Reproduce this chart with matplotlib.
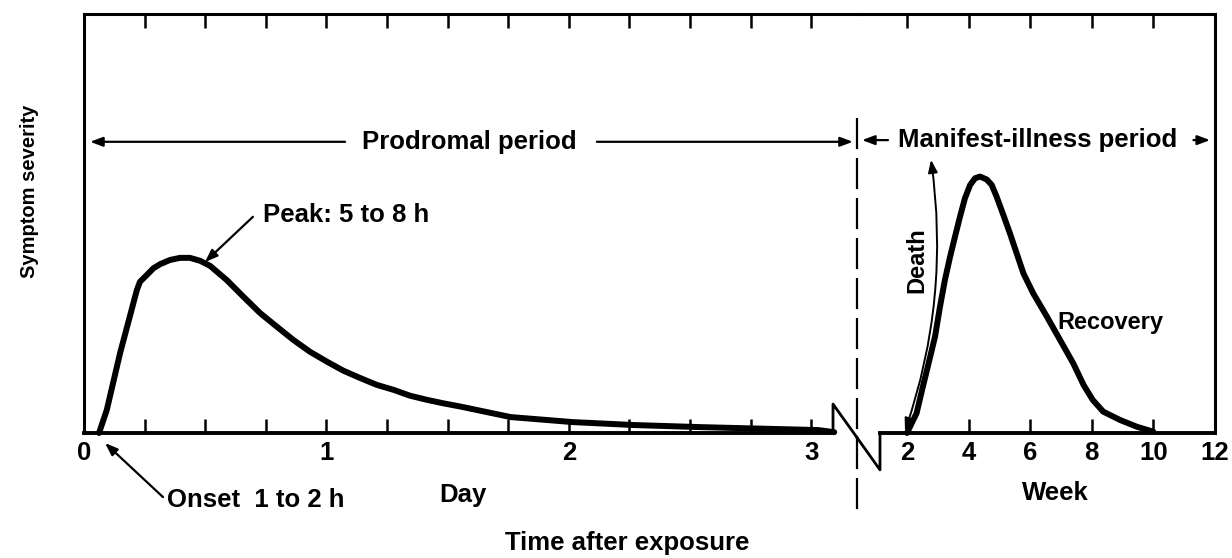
import numpy as np
import matplotlib
matplotlib.use("Agg")
import matplotlib.pyplot as plt

plt.rcParams['font.family'] = ['Liberation Sans', 'DejaVu Sans']
plt.rcParams['font.weight'] = 'bold'

# prodromal period curve (time in days, severity in arbitrary units 0-10)
day_t = [0.062, 0.094, 0.149, 0.218, 0.231, 0.259, 0.286, 0.314, 0.355, 0.396,
         0.437, 0.479, 0.520, 0.589, 0.658, 0.727, 0.795, 0.864, 0.932, 1.003,
         1.069, 1.140, 1.207, 1.277, 1.345, 1.416, 1.481, 1.554, 1.760, 2.017,
         2.269, 2.545, 2.822, 3.029, 3.095]
day_sev = [0.0, 0.55, 1.91, 3.41, 3.61, 3.77, 3.93, 4.03, 4.13, 4.18,
           4.18, 4.11, 3.99, 3.65, 3.25, 2.86, 2.54, 2.22, 1.94, 1.70,
           1.49, 1.31, 1.15, 1.03, 0.89, 0.79, 0.71, 0.63, 0.38, 0.26,
           0.19, 0.14, 0.10, 0.07, 0.02]

# manifest-illness period curve (time in weeks)
week_t = [2.0, 2.15, 2.31, 2.49, 2.68, 2.91, 3.07, 3.23, 3.40, 3.56, 3.72,
          3.88, 4.05, 4.21, 4.37, 4.59, 4.75, 4.91, 5.13, 5.34, 5.56, 5.78,
          6.10, 6.54, 6.97, 7.40, 7.73, 8.03, 8.37, 8.92, 9.46, 10.0]
week_sev = [0.0, 0.23, 0.47, 1.03, 1.60, 2.30, 3.01, 3.65, 4.21, 4.69, 5.16,
            5.60, 5.92, 6.08, 6.12, 6.05, 5.92, 5.64, 5.20, 4.77, 4.29, 3.81,
            3.33, 2.78, 2.22, 1.66, 1.15, 0.79, 0.51, 0.31, 0.15, 0.03]

day_major = [0, 1, 2, 3]
day_labels = ['0', '1', '2', '3']
week_major = [2, 4, 6, 8, 10, 12]
week_labels = ['2', '4', '6', '8', '10', '12']

W, H = 1232, 558
fs = 18.5
fig = plt.figure(figsize=(W / 100, H / 100), dpi=100)

# axes placed in pixels: baseline at y=433, top frame at y=14
ax1 = fig.add_axes([84 / W, 1 - 480 / H, (857 - 84) / W, (480 - 14) / H])
ax2 = fig.add_axes([857 / W, 1 - 480 / H, (1215 - 857) / W, (480 - 14) / H])
ymin = -(480 - 433) / 41.9
ax1.set_xlim(0, (857 - 84) / 242.4)
ax2.set_xlim(2 - (907 - 857) / 30.8, 12)
for ax in (ax1, ax2):
    ax.set_ylim(ymin, 10)
    ax.set_yticks([])
    ax.patch.set_alpha(0)
    ax.spines['bottom'].set_position(('data', 0))
    ax.spines['bottom'].set_linewidth(2.8)
    ax.spines['top'].set_linewidth(2.2)
    ax.tick_params(axis='x', which='both', top=True, bottom=True, direction='in',
                   length=10, width=1.8, pad=6, labelsize=fs)

ax1.spines['right'].set_visible(False)
ax1.spines['left'].set_bounds(0, 10)
ax1.spines['left'].set_linewidth(2.2)
ax1.spines['bottom'].set_bounds(0, 3.09)
ax2.spines['left'].set_visible(False)
ax2.spines['right'].set_bounds(0, 10)
ax2.spines['right'].set_linewidth(2.2)
ax2.spines['bottom'].set_bounds(1.123, 12)

ax1.set_xticks(day_major)
ax1.set_xticklabels(day_labels)
ax1.set_xticks(np.arange(0.25, 3.01, 0.25), minor=True)
ax2.set_xticks(week_major)
ax2.set_xticklabels(week_labels)

# curves
ax1.plot(day_t, day_sev, color='k', lw=4.3, solid_capstyle='round', solid_joinstyle='round')
ax2.plot(week_t, week_sev, color='k', lw=4.3, solid_capstyle='round', solid_joinstyle='round')

# axis break zigzag
ax1.plot([3.09, 3.09, 3.189], [0, 0.69, -0.11], color='k', lw=2.0, clip_on=False)
ax2.plot([0.377, 1.123, 1.123], [-0.11, -0.88, 0], color='k', lw=2.0, clip_on=False)

# dashed separator
ax2.plot([0.377, 0.377], [7.52, -2.0], color='k', lw=1.6, dashes=(14, 4), clip_on=False)

arr = dict(arrowstyle='-|>,head_length=0.75,head_width=0.28', lw=1.6, color='k',
           shrinkA=0, shrinkB=0)

# period headers
ax1.text(1.59, 6.95, 'Prodromal period', ha='center', va='center', fontsize=fs)
ax1.annotate('', xy=(0.025, 6.95), xytext=(1.077, 6.95), arrowprops=arr)
ax1.annotate('', xy=(3.172, 6.95), xytext=(2.116, 6.95), arrowprops=arr, annotation_clip=False)
ax2.text(6.24, 6.99, 'Manifest-illness period', ha='center', va='center', fontsize=fs)
ax2.annotate('', xy=(0.539, 6.99), xytext=(1.383, 6.99), arrowprops=arr)
ax2.annotate('', xy=(11.84, 6.99), xytext=(11.30, 6.99), arrowprops=arr)

# annotations on prodromal curve
ax1.text(0.738, 5.20, 'Peak: 5 to 8 h', ha='left', va='center', fontsize=fs)
ax1.annotate('', xy=(0.499, 4.08), xytext=(0.697, 5.16), arrowprops=arr)
ax1.text(0.342, -1.60, 'Onset  1 to 2 h', ha='left', va='center', fontsize=fs)
ax1.annotate('', xy=(0.087, -0.24), xytext=(0.326, -1.53), arrowprops=arr,
             annotation_clip=False)

# death / recovery
ax2.annotate('', xy=(1.935, 0.05), xytext=(2.78, 6.52),
             arrowprops=dict(arrowstyle='<|-|>,head_length=0.75,head_width=0.28', lw=1.4,
                             color='k', shrinkA=0, shrinkB=0,
                             connectionstyle='arc3,rad=-0.12'))
ax2.text(2.32, 4.13, 'Death', rotation=90, ha='center', va='center', fontsize=17)
ax2.text(6.87, 2.63, 'Recovery', ha='left', va='center', fontsize=17)

# axis titles
ax1.text((463 - 84) / 242.4, (433 - 495) / 41.9, 'Day', ha='center', va='center', fontsize=fs)
ax2.text(2 + (1055 - 907) / 30.8, (433 - 493) / 41.9, 'Week', ha='center', va='center', fontsize=fs)
fig.text(627 / W, 1 - 543 / H, 'Time after exposure', ha='center', va='center', fontsize=fs)
fig.text(30 / W, 1 - 191 / H, 'Symptom severity', rotation=90, ha='center', va='center', fontsize=14.5)

fig.savefig('out.png', dpi=100)
